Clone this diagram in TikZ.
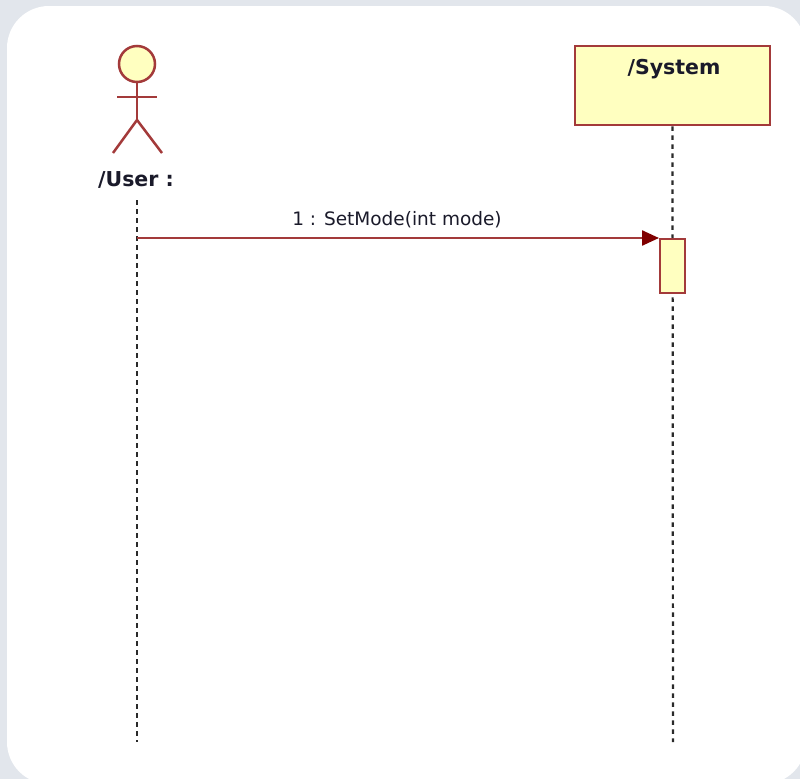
\documentclass[tikz,border=0pt]{standalone}
\usepackage{fontspec}
\setmainfont{DejaVu Sans}
\usetikzlibrary{arrows.meta}
\definecolor{bgc}{HTML}{E2E6EC}
\definecolor{umlred}{HTML}{A33A3A}
\definecolor{arrowred}{HTML}{800000}
\definecolor{umlfill}{HTML}{FFFFC0}
\definecolor{lifec}{HTML}{2A2A2A}
\definecolor{txtc}{HTML}{1A1A2A}
\tikzset{
  lifeline/.style={draw=lifec, line width=2.2pt, dash pattern=on 4.5pt off 4.5pt},
  umlline/.style={draw=umlred, line width=2.5pt},
  objbox/.style={draw=umlred, fill=umlfill, line width=2.8pt},
  msg/.style={draw=umlred, line width=2.4pt, -{Triangle[length=17pt,width=15pt,fill=arrowred,color=arrowred]}},
  lbl/.style={inner sep=0pt, text=txtc, font=\fontsize{18.5}{22}\selectfont},
  blbl/.style={inner sep=0pt, text=txtc, font=\fontsize{20.5}{24}\selectfont\bfseries},
}
\begin{document}
\begin{tikzpicture}[x=1pt,y=-1pt]
\useasboundingbox (0,0) rectangle (800,779);
\fill[bgc] (0,0) rectangle (800,779);
\fill[white, rounded corners=42pt] (7,6) rectangle (806,784);
% actor
\draw[umlline, fill=umlfill] (137,64) circle (18);
\draw[umlline] (137,82) -- (137,120);
\draw[umlline] (117,97) -- (157,97);
\draw[umlline] (113,153) -- (137,120) -- (162,153);
\node[blbl] (user) at (136,180) {/User :};
\coordinate (ubot) at (137,742);
\coordinate (ustart) at (137,200);
\draw[lifeline] (ustart) -- (ubot);
% system
\node[objbox, minimum width=195pt, minimum height=79pt, inner sep=0pt] (sys) at (672.5,85.5) {};
\node[blbl] (syslbl) at (674,69) {/System};
\coordinate (sbot) at (673,742);
\draw[lifeline] (sys.south) -- (sbot);
% activation
\node[objbox, line width=2.4pt, minimum width=25pt, minimum height=54pt, inner sep=0pt, anchor=north west] (act) at (659,238) {};
% message
\coordinate (msgstart) at (137,238);
\draw[msg] (msgstart) -- (act.north west);
\node[lbl] (msglbl) at (397,220) {1 : SetMode(int mode)};
\end{tikzpicture}
\end{document}
